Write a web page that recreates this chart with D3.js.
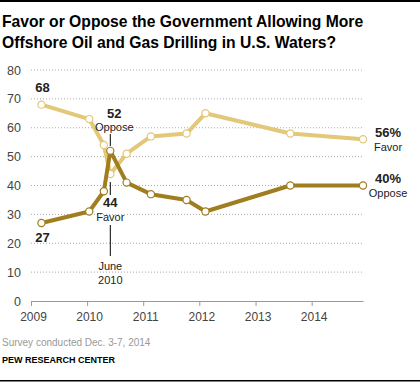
<!DOCTYPE html>
<html><head><meta charset="utf-8">
<script src="https://cdn.jsdelivr.net/npm/d3@7"></script>
<style>
body{margin:0;background:#fff;}
svg{display:block;font-family:"Liberation Sans",Arial,sans-serif;}
</style></head>
<body><svg id="c" width="420" height="385"></svg>
<script>
const dates = ["2009-03-10","2010-01-15","2010-04-20","2010-06-01","2010-09-15","2011-02-20","2011-10-10","2012-02-10","2013-08-15","2014-12-01"];
const favor = [68,63,54,44,51,57,58,65,58,56];
const oppose = [27,31,38,52,41,37,35,31,40,40];
const yTicks = [0,10,20,30,40,50,60,70,80];
const xTickYears = [2009,2010,2011,2012,2013,2014];

const svg = d3.select("#c");
const parse = d3.timeParse("%Y-%m-%d");
const dd = dates.map(parse);
const x = d3.scaleTime().domain([new Date(2009,0,1), new Date(2014,11,1)]).range([31, 363]);
const y = d3.scaleLinear().domain([0,80]).range([301,70]);

// borders
svg.append("rect").attr("x",0).attr("y",0).attr("width",420).attr("height",2).attr("fill","#000");
svg.append("rect").attr("x",0).attr("y",380).attr("width",420).attr("height",1.5).attr("fill","#000");

// title
const title = svg.append("text").attr("font-weight","bold").attr("font-size",15.7).attr("fill","#000");
title.append("tspan").attr("x",2).attr("y",27).text("Favor or Oppose the Government Allowing More");
title.append("tspan").attr("x",2).attr("y",48).text("Offshore Oil and Gas Drilling in U.S. Waters?");

// gridlines
svg.append("g").selectAll("line").data(yTicks.filter(d=>d>0)).join("line")
  .attr("x1",31).attr("x2",363).attr("y1",d=>y(d)).attr("y2",d=>y(d))
  .attr("stroke","#aaa").attr("stroke-width",1).attr("stroke-dasharray","1,2");

// y labels
svg.append("g").selectAll("text").data(yTicks).join("text")
  .attr("x",21).attr("y",d=>y(d)+4.5).attr("text-anchor","end")
  .attr("font-size",12.5).attr("fill","#444").text(d=>d);

// x axis
const xAxis = d3.axisBottom(x).tickValues(xTickYears.map(yr=>new Date(yr,0,1)))
  .tickFormat(d3.timeFormat("%Y")).tickSize(5).tickSizeOuter(0);
const gx = svg.append("g").attr("transform","translate(0,"+y(0)+")").call(xAxis);
gx.select(".domain").attr("stroke","#999");
gx.selectAll(".tick line").attr("stroke","#999");
gx.selectAll(".tick text").attr("font-size",12).attr("fill","#444").attr("dy","1.0em")
  .attr("font-family","'Liberation Sans',Arial,sans-serif").attr("dx",2);

// June 2010 marker lines
const jx = x(dd[3]);
[[134,146],[182,195],[225,256]].forEach(s=>{
  svg.append("line").attr("x1",jx).attr("x2",jx).attr("y1",s[0]).attr("y2",s[1]).attr("stroke","#000").attr("stroke-width",1);
});

const line = d3.line().x((d,i)=>x(dd[i])).y(d=>y(d));
const cFav = "#e2c878", cOpp = "#a07e20";
function series(vals,col){
  svg.append("path").datum(vals).attr("d",line).attr("fill","none").attr("stroke",col).attr("stroke-width",4).attr("stroke-linejoin","round");
  svg.append("g").selectAll("circle").data(vals).join("circle")
    .attr("cx",(d,i)=>x(dd[i])).attr("cy",d=>y(d)).attr("r",3.6)
    .attr("fill","#fff").attr("stroke",col).attr("stroke-width",1.2);
}
series(favor,cFav);
series(oppose,cOpp);

// annotations
function lab(xp,yp,t,bold,anchor){
  svg.append("text").attr("x",xp).attr("y",yp).attr("text-anchor",anchor||"middle")
    .attr("font-size",bold?13:11).attr("font-weight",bold?"bold":"normal").attr("fill","#222").text(t);
}
lab(x(dd[0])+1,92,favor[0],true);
lab(x(dd[0])+1,242,oppose[0],true);
lab(jx+4,118,oppose[3],true);
lab(jx+4,131,"Oppose",false);
lab(jx,207,favor[3],true);
lab(jx,221,"Favor",false);
lab(jx,270,"June",false);
lab(jx,284,"2010",false);
lab(388,137,favor[9]+"%",true);
lab(388,151,"Favor",false);
lab(388,183,oppose[9]+"%",true);
lab(388,197,"Oppose",false);

// footer
svg.append("text").attr("x",2).attr("y",346).attr("font-size",10).attr("fill","#999").text("Survey conducted Dec. 3-7, 2014");
svg.append("text").attr("x",2).attr("y",363).attr("font-size",9).attr("font-weight","bold").attr("fill","#000").text("PEW RESEARCH CENTER");
</script></body></html>
